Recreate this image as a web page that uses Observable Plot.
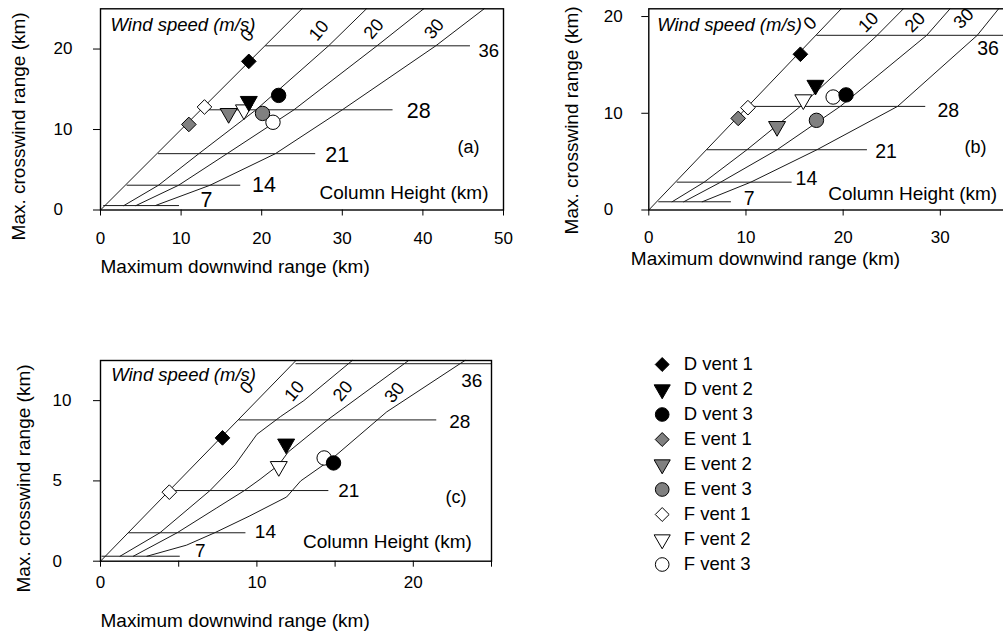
<!DOCTYPE html>
<html><head><meta charset="utf-8">
<script src="https://cdn.jsdelivr.net/npm/d3@7"></script>
<script src="https://cdn.jsdelivr.net/npm/@observablehq/plot@0.6"></script>
<style>
html,body{margin:0;padding:0;background:#fff;overflow:hidden}
#chart{position:relative;width:1003px;height:635px;overflow:hidden;background:#fff}
#chart > svg{position:absolute;margin:0}
</style></head><body><div id="chart"></div>
<script>
// ---------- data (km) ----------
const vents = ["D vent 1","D vent 2","D vent 3","E vent 1","E vent 2","E vent 3","F vent 1","F vent 2","F vent 3"];
const windSpeeds = [0, 10, 20, 30];
const heights = [7, 14, 21, 28, 36];

// panel (a)
const aX = [18.4, 18.4, 22.1, 10.96, 15.9, 20.1, 12.9, 17.8, 21.4];
const aY = [18.47, 13.5, 14.24, 10.63, 12.0, 12.0, 12.8, 12.45, 10.9];
const aWind0  = [[0,0],[25,25]];
const aWind10 = [[2.9,0.55],[7.2,3.08],[12.2,7.0],[19.3,12.45],[28.3,20.4],[33.0,25]];
const aWind20 = [[4.4,0.55],[9.7,3.08],[15.7,7.0],[24.0,12.45],[34.3,20.4],[40.1,25]];
const aWind30 = [[6.8,0.55],[13.6,3.08],[21.7,7.0],[30.0,12.45],[41.6,20.4],[47.6,25]];
const aColY  = [0.55, 3.08, 7.0, 12.45, 20.4];
const aColX1 = [0.4, 3.3, 7.2, 12.4, 20.5];
const aColX2 = [9.8, 17.4, 26.7, 36.3, 45.9];
const aLabX  = [12.4, 18.8, 27.9, 38.0, 46.9];
const aLabY  = [1.18, 3.05, 6.78, 12.25, 19.8];
const aWindLabX = [18.2, 27.1, 33.9, 41.4];
const aWindLabY = [21.7, 22.3, 22.5, 22.5];

// panel (b)
const bX = [15.6, 17.15, 20.3, 9.2, 13.2, 17.25, 10.2, 15.9, 18.97];
const bY = [16.1, 12.9, 11.9, 9.47, 8.64, 9.27, 10.58, 11.4, 11.68];
const bWind0  = [[0,0],[19.8,20.8]];
const bWind10 = [[2.4,0.85],[5.7,2.88],[10.1,6.23],[15.6,10.71],[23.5,18.06],[26.2,20.8]];
const bWind20 = [[3.6,0.85],[7.4,2.88],[13.2,6.23],[19.7,10.71],[28.6,18.06],[31.0,20.8]];
const bWind30 = [[5.5,0.85],[10.5,2.88],[17.3,6.23],[25.6,10.71],[33.8,18.06],[36.0,20.8]];
const bColY  = [0.85, 2.88, 6.23, 10.71, 18.06];
const bColX1 = [1.03, 2.92, 6.0, 10.64, 17.3];
const bColX2 = [8.5, 14.75, 22.5, 28.5, 40];
const bLabX  = [9.77, 15.1, 23.3, 29.7, 33.8];
const bLabY  = [1.16, 3.23, 5.98, 10.3, 16.7];
const bWindLabX = [16.6, 22.6, 27.4, 32.4];
const bWindLabY = [19.3, 19.4, 19.4, 19.8];

// panel (c)
const cX = [7.8, 11.87, 14.9, null, null, null, 4.4, 11.4, 14.3];
const cY = [7.68, 7.3, 6.12, null, null, null, 4.3, 5.9, 6.43];
const cWind0  = [[0,0],[12.5,12.5]];
const cWind10 = [[1.25,0.31],[3.8,1.77],[7.0,4.4],[8.6,6.0],[10.0,7.9],[11.5,9.0],[13.0,10.0],[16.1,12.5]];
const cWind20 = [[2.1,0.31],[4.9,1.77],[7.4,3.3],[9.2,4.4],[10.2,5.1],[11.4,6.0],[12.0,6.8],[14.6,8.86],[19.7,12.5]];
const cWind30 = [[2.97,0.31],[5.5,1.0],[7.3,1.77],[9.5,2.8],[11.9,4.0],[12.8,5.0],[14.7,6.3],[18.3,9.3],[23.3,12.5]];
const cColY  = [0.31, 1.77, 4.4, 8.8, 12.3];
const cColX1 = [0.1, 1.8, 4.4, 8.86, 12.5];
const cColX2 = [5.1, 9.3, 14.6, 21.5, 25];
const cLabX  = [6.05, 9.87, 15.2, 22.3, 23.06];
const cLabY  = [0.67, 1.8, 4.36, 8.65, 11.25];
const cWindLabX = [9.36, 12.4, 15.5, 18.8];
const cWindLabY = [10.8, 10.6, 10.6, 10.5];

// ---------- styling helpers ----------
const FONT = "'Liberation Sans', Arial, Helvetica, sans-serif";
const downTri = {
  draw(ctx, size) {
    const y = Math.sqrt(size / (3 * Math.sqrt(3)));
    ctx.moveTo(0, 2 * y);
    ctx.lineTo(-Math.sqrt(3) * y, -y);
    ctx.lineTo(Math.sqrt(3) * y, -y);
    ctx.closePath();
  }
};
const shapeOf = name => name.slice(-1);
const symbolOf = n => n === "1" ? "diamond2" : n === "2" ? downTri : "circle";
const radiusOf = n => n === "1" ? 6.6 : n === "2" ? 6.3 : 7.2;
const fillOf = name => name[0] === "D" ? "#000" : name[0] === "E" ? "#808080" : "#fff";

function ventMarks(xs, ys) {
  const rows = vents.map((v, i) => ({v, x: xs[i], y: ys[i], fill: fillOf(v)}))
    .filter(d => d.x != null);
  const order = [...rows].reverse(); // F drawn first, D on top
  return order.map(d => Plot.dot([d], {
    x: "x", y: "y", symbol: symbolOf(shapeOf(d.v)), r: radiusOf(shapeOf(d.v)),
    fill: "fill", stroke: "#000", strokeWidth: 1
  }));
}

function panel(cfg) {
  const windRows = [];
  cfg.wind.forEach((pts, k) => pts.forEach(([x, y]) => windRows.push({s: windSpeeds[k], x, y})));
  const colRows = heights.map((h, i) => ({h, y: cfg.colY[i], x1: cfg.colX1[i], x2: cfg.colX2[i], lx: cfg.labX[i], ly: cfg.labY[i]}));
  const windLab = windSpeeds.map((s, i) => ({s, x: cfg.wlX[i], y: cfg.wlY[i]}));
  const p = Plot.plot({
    width: cfg.width, height: cfg.height,
    marginLeft: cfg.ml, marginRight: cfg.mr, marginTop: cfg.mt, marginBottom: cfg.mb,
    x: {domain: cfg.xDomain},
    y: {domain: cfg.yDomain},
    color: {type: "identity"},
    style: {fontFamily: FONT, fontSize: "17px", color: "#000", background: "transparent", overflow: "visible"},
    marks: [
      Plot.line(windRows, {x: "x", y: "y", z: "s", stroke: "#000", strokeWidth: 0.9}),
      Plot.ruleY(colRows, {y: "y", x1: "x1", x2: "x2", stroke: "#1a1a1a", strokeWidth: 1}),
      Plot.text(colRows, {x: "lx", y: "ly", text: d => String(d.h), textAnchor: "start", lineAnchor: "middle", fontSize: cfg.colFont}),
      Plot.text(windLab, {x: "x", y: "y", text: d => String(d.s), rotate: cfg.windRot, textAnchor: "middle", lineAnchor: "middle", fontSize: 18}),
      Plot.text(["Wind speed (m/s)"], {frameAnchor: "top-left", dx: cfg.wsDx, dy: cfg.wsDy, textAnchor: "start", lineAnchor: "middle", fontStyle: "italic", fontSize: 18.5}),
      Plot.text([cfg.letter], {frameAnchor: "right", dx: cfg.letDx, dy: cfg.letDy, textAnchor: "middle", lineAnchor: "middle", fontSize: 18}),
      Plot.text(["Column Height (km)"], {frameAnchor: "bottom-right", dx: cfg.chDx, dy: cfg.chDy, textAnchor: "end", lineAnchor: "middle", fontSize: 19}),
      ...ventMarks(cfg.vx, cfg.vy),
      Plot.frame({stroke: "#000", strokeWidth: 1.4}),
      Plot.axisX({ticks: cfg.xTicks, tickSize: 6, tickPadding: cfg.xPad, label: null, fontSize: 17,
        tickFormat: d => (d % cfg.xLabEvery === 0 ? String(d) : "")}),
      Plot.axisY({ticks: cfg.yTicks, tickSize: 7, tickPadding: cfg.yPad, textAnchor: "start", label: null, fontSize: 17,
        tickFormat: d => String(d)}),
      Plot.text(["Maximum downwind range (km)"], {frameAnchor: "bottom-left", dx: cfg.xtDx, dy: cfg.xtDy, textAnchor: "start", lineAnchor: "middle", fontSize: 19}),
      Plot.text(["Max. crosswind range (km)"], {frameAnchor: "left", rotate: -90, dx: cfg.ytDx, dy: cfg.ytDy, textAnchor: "middle", lineAnchor: "middle", fontSize: 19})
    ]
  });
  p.style.left = cfg.left + "px";
  p.style.top = cfg.top + "px";
  return p;
}

const chart = document.getElementById("chart");

chart.appendChild(panel({
  left: 0, top: 0, width: 520, height: 300, ml: 100, mr: 17, mt: 8.3, mb: 90.5,
  xDomain: [0, 50], yDomain: [0, 25], xTicks: [0,10,20,30,40,50], yTicks: [0,10,20], xLabEvery: 10,
  xPad: 16.4, yPad: 40,
  wind: [aWind0, aWind10, aWind20, aWind30], colY: aColY, colX1: aColX1, colX2: aColX2, labX: aLabX, labY: aLabY,
  colFont: d => d.h === 36 ? 18.5 : 21.5,
  wlX: aWindLabX, wlY: aWindLabY, windRot: -50,
  vx: aX, vy: aY, letter: "(a)", letDx: -35, letDy: 37.7, chDx: -15, chDy: -16.8, wsDx: 10, wsDy: 16.7,
  xtDx: 0, xtDy: 57, ytDx: -81.7, ytDy: 17
}));

chart.appendChild(panel({
  left: 560, top: 0, width: 497, height: 300, ml: 88.3, mr: 20, mt: 8.3, mb: 90.5,
  xDomain: [0, 40], yDomain: [0, 20.8], xTicks: [0,10,20,30], yTicks: [0,10,20], xLabEvery: 10,
  xPad: 15, yPad: 38,
  wind: [bWind0, bWind10, bWind20, bWind30], colY: bColY, colX1: bColX1, colX2: bColX2, labX: bLabX, labY: bLabY,
  colFont: 19.5,
  wlX: bWindLabX, wlY: bWindLabY, windRot: -45,
  vx: bX, vy: bY, letter: "(b)", letDx: -62, letDy: 37.7, chDx: -40.3, chDy: -16.2, wsDx: 8.4, wsDy: 16.7,
  xtDx: -18, xtDy: 49, ytDx: -76.6, ytDy: 11
}));

chart.appendChild(panel({
  left: 0, top: 330, width: 520, height: 305, ml: 100, mr: 29, mt: 30, mb: 74.3,
  xDomain: [0, 25], yDomain: [0, 12.5], xTicks: [0,5,10,15,20,25], yTicks: [0,5,10], xLabEvery: 10,
  xPad: 8.9, yPad: 41,
  wind: [cWind0, cWind10, cWind20, cWind30], colY: cColY, colX1: cColX1, colX2: cColX2, labX: cLabX, labY: cLabY,
  colFont: 19,
  wlX: cWindLabX, wlY: cWindLabY, windRot: -50,
  vx: cX, vy: cY, letter: "(c)", letDx: -35.6, letDy: 36.3, chDx: -19.6, chDy: -19, wsDx: 10.7, wsDy: 15,
  xtDx: 0, xtDy: 59.3, ytDx: -76.8, ytDy: 17.6
}));

// ---------- legend ----------
const legendRows = vents.map(v => ({v, fill: fillOf(v)}));
const legend = Plot.plot({
  width: 200, height: 260, marginLeft: 71.7, marginRight: 10, marginTop: 41, marginBottom: 13.3,
  x: {domain: [0, 1], axis: null},
  y: {domain: vents, type: "point", padding: 0, axis: null},
  color: {type: "identity"},
  style: {fontFamily: FONT, fontSize: "18.5px", color: "#000", background: "transparent", overflow: "visible"},
  marks: [
    ...legendRows.map(d => Plot.dot([d], {x: () => 0, y: "v", symbol: symbolOf(shapeOf(d.v)), r: radiusOf(shapeOf(d.v)) * 0.95,
      fill: "fill", stroke: "#000", strokeWidth: 1})),
    Plot.text(legendRows, {x: () => 0, y: "v", text: "v", dx: 21.6, textAnchor: "start", lineAnchor: "middle", fontSize: 18.5})
  ]
});
legend.style.left = "590px";
legend.style.top = "320px";
chart.appendChild(legend);
</script></body></html>
